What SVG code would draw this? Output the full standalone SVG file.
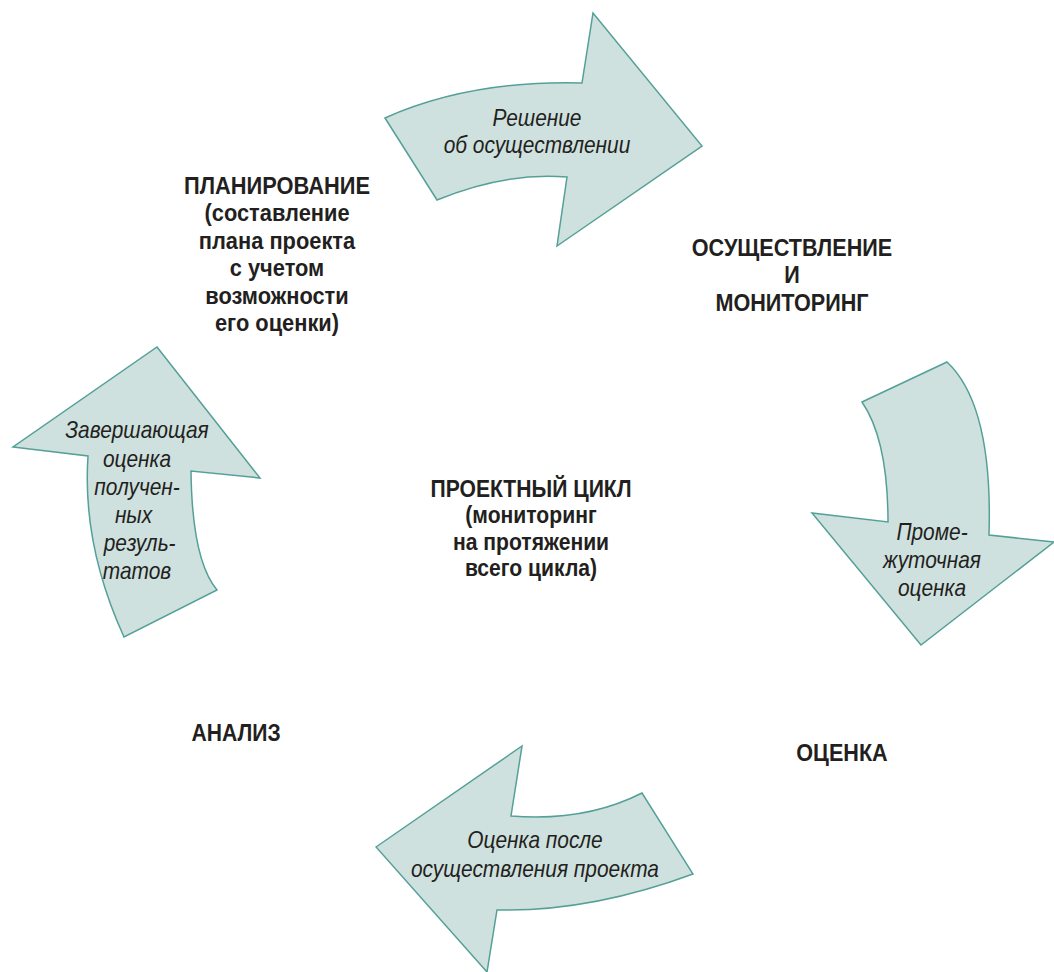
<svg xmlns="http://www.w3.org/2000/svg" width="1054" height="972" viewBox="0 0 1054 972">
<style>
.arrow{fill:#cfe1df;stroke:#54a098;stroke-width:1.5;stroke-linejoin:miter}
.it{font-family:"Liberation Sans",Arial,sans-serif;font-style:italic;font-size:24px;fill:#231f20;text-anchor:middle}
.bd{font-family:"Liberation Sans",Arial,sans-serif;font-weight:bold;font-size:24px;fill:#231f20;text-anchor:middle}
</style>
<rect width="1054" height="972" fill="#ffffff"/>
<g id="connectors">
<g id="arrow-top">
<path class="arrow" d="M385,118 Q470,80 582,83 L593,13 L702,146 L557,246 L567,177 Q505,172 437,200 Z"/>
<text class="it" transform="translate(537,126) scale(0.87,1)"><tspan x="0" dy="0">Решение</tspan><tspan x="0" dy="27">об осуществлении</tspan></text>
</g>
<g id="arrow-right">
<path class="arrow" d="M862,402 L947,362 Q993,405 989,535 L1054,542 L921,645 L812,513 L888,522 Q888,440 862,402 Z"/>
<text class="it" transform="translate(932,540) scale(0.87,1)"><tspan x="0" dy="0">Проме-</tspan><tspan x="0" dy="28">жуточная</tspan><tspan x="0" dy="28">оценка</tspan></text>
</g>
<g id="arrow-bottom">
<path class="arrow" d="M376,847 L522,746 L511,816 Q585,822 642,793 L693,874 Q590,912 497,910 L487,972 Z"/>
<text class="it" transform="translate(535,848) scale(0.87,1)"><tspan x="0" dy="0">Оценка после</tspan><tspan x="0" dy="29">осуществления проекта</tspan></text>
</g>
<g id="arrow-left">
<path class="arrow" d="M157,347 L260,478 L191,471 Q192,560 217,590 L124,637 Q82,545 88,456 L13,447 Z"/>
<text class="it" transform="translate(137,438) scale(0.87,1)"><tspan x="0" dy="0">Завершающая</tspan><tspan x="0" dy="29">оценка</tspan><tspan x="0" dy="28">получен-</tspan><tspan x="-4" dy="28">ных</tspan><tspan x="3" dy="28">резуль-</tspan><tspan x="0" dy="28">татов</tspan></text>
</g>
</g>
<g id="node-planning">
<text class="bd" transform="translate(277,194) scale(0.91,1)"><tspan x="0" dy="0">ПЛАНИРОВАНИЕ</tspan><tspan x="0" dy="27.5">(составление</tspan><tspan x="0" dy="27.5">плана проекта</tspan><tspan x="0" dy="27.5">с учетом</tspan><tspan x="0" dy="27.5">возможности</tspan><tspan x="0" dy="27.5">его оценки)</tspan></text>
</g>
<g id="node-implementation">
<text class="bd" transform="translate(792,256) scale(0.9,1)"><tspan x="0" dy="0">ОСУЩЕСТВЛЕНИЕ</tspan><tspan x="0" dy="27.5">И</tspan><tspan x="0" dy="27.5">МОНИТОРИНГ</tspan></text>
</g>
<g id="node-cycle">
<text class="bd" transform="translate(531,497) scale(0.88,1)"><tspan x="0" dy="0">ПРОЕКТНЫЙ ЦИКЛ</tspan><tspan x="0" dy="26.5">(мониторинг</tspan><tspan x="0" dy="26.5">на протяжении</tspan><tspan x="0" dy="26.5">всего цикла)</tspan></text>
</g>
<g id="node-analysis">
<text class="bd" transform="translate(236,741) scale(0.88,1)">АНАЛИЗ</text>
</g>
<g id="node-evaluation">
<text class="bd" transform="translate(842,761) scale(0.9,1)">ОЦЕНКА</text>
</g>
</svg>
